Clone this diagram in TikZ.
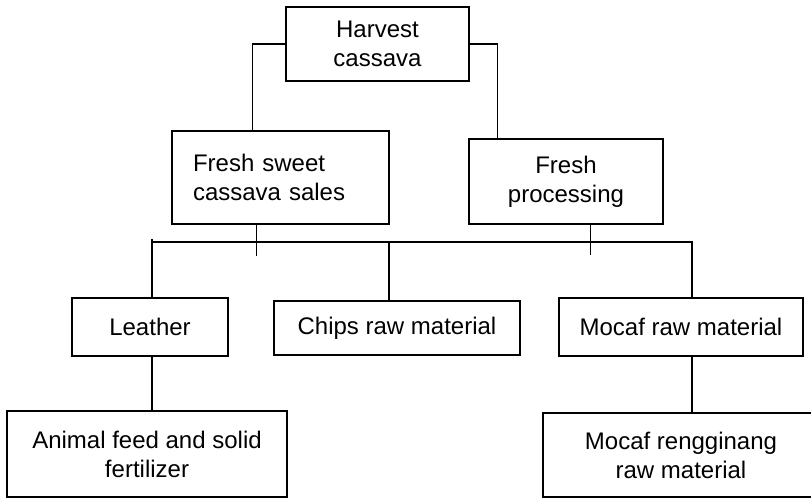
\documentclass[tikz,border=0pt]{standalone}
\usepackage{fontspec}
\setmainfont{Liberation Sans}
\usetikzlibrary{calc}

\begin{document}
\begin{tikzpicture}[x=1pt, y=-1pt,
	box/.style={draw, line width=1.5pt, inner sep=0pt, align=center,
		font=\fontsize{24}{29}\selectfont},
	link/.style={line width=1.5pt},
	bus/.style={line width=2pt}]
			\useasboundingbox (0,0) rectangle (811,498);
			
			%caixa de cima
			\node[box, minimum width=183, minimum height=74] (H) at (377.5,44) {Harvest\\cassava};
			
			%segundo nivel
			\node[box, minimum width=217, minimum height=93, text width=175, align=left] (S) at (280.5,177.5) {Fresh sweet\\cassava sales};
			\node[box, minimum width=194, minimum height=85] (P) at (566,181.5) {Fresh\\processing};
			
			%terceiro nivel
			\node[box, minimum width=156, minimum height=58] (L) at (150,327) {Leather};
			\node[box, minimum width=246, minimum height=54] (C) at (397,328) {Chips raw material};
			\node[box, minimum width=244, minimum height=58] (M) at (681,327) {Mocaf raw material};
			
			%ultimo nivel
			\node[box, minimum width=280, minimum height=86] (A) at (147,454) {Animal feed and solid\\fertilizer};
			\node[box, minimum width=276, minimum height=84] (R) at (681,455) {Mocaf rengginang\\raw material};
			
			%ligando a colheita
			\draw[link] (H.west) -| ([xshift=81]S.north west);
			\draw[link] (H.east) -| ([xshift=29]P.north west);
			\draw[link] ([xshift=85]S.south west) -- ++(0,31);
			\draw[link] ([xshift=122]P.south west) -- ++(0,30);
			
			%barra horizontal
			\draw[bus] ([xshift=2]L.north) -- ++(0,-58);
			\draw[bus] ([xshift=2]L.north) ++(0,-55) -| ([xshift=11]M.north);
			\draw[link] ([xshift=-8]C.north) -- ++(0,-58);
			
			%ligando os produtos
			\draw[link] ([xshift=2]L.south) -- ([xshift=5]A.north);
			\draw[link] ([xshift=11]M.south) -- ([xshift=11]R.north);
		\end{tikzpicture}
\end{document}
